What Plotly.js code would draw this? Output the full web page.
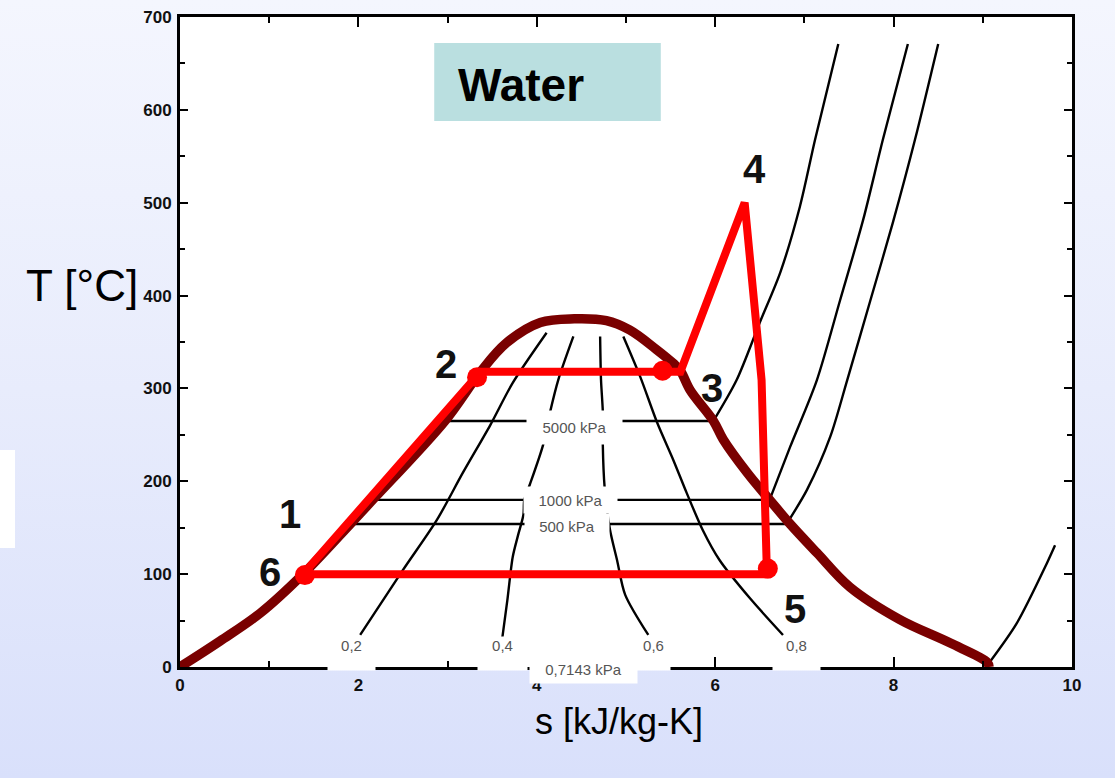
<!DOCTYPE html>
<html>
<head>
<meta charset="utf-8">
<script src="https://cdn.plot.ly/plotly-3.0.1.min.js"></script>
<style>
  html, body { margin:0; padding:0; width:1115px; height:778px; overflow:hidden;
    background: linear-gradient(to bottom, #f4f6fe 0%, #e8ecfc 50%, #d9e0fb 100%); }
  #chart { width:1115px; height:778px; }
</style>
</head>
<body>
<div id="chart"></div>
<script>
// ---- data (s in kJ/kg-K, T in °C) ----
const domeS = [0, 0.45, 0.9, 1.38, 1.91, 2.16, 2.97, 3.37, 3.66, 4.04, 4.42, 4.78, 5.04, 5.34, 5.53, 5.61, 5.72, 5.98, 6.09, 6.36, 6.61, 6.84, 7.14, 7.51, 8.07, 8.63, 9.05, 9.07];
const domeT = [0, 28, 58, 100, 154, 180, 265, 318, 349, 371, 375, 373, 363, 342, 327, 319, 298, 265, 245, 209, 180, 154, 123, 86, 51, 26, 5, 0];

const cycleS = [1.38, 3.37, 5.61, 6.33, 6.52, 6.58, 1.38];
const cycleT = [100, 318, 318, 500, 309, 100, 100];
const stateMarkS = [1.40, 3.33, 5.41, 6.59];
const stateMarkT = [99, 312, 319, 106];

// isobars: first two points = saturated (horizontal) part, rest = superheated
const iso5000S = [2.97, 5.98, 6.24, 6.50, 6.73, 6.95, 7.12, 7.38];
const iso5000T = [265, 265, 309, 371, 425, 496, 568, 671];
const iso1000S = [2.16, 6.61, 6.84, 7.14, 7.40, 7.66, 7.88, 8.16];
const iso1000T = [180, 180, 237, 309, 395, 482, 568, 671];
const iso500S  = [1.91, 6.80, 7.03, 7.29, 7.48, 7.74, 7.99, 8.24, 8.50];
const iso500T  = [154, 154, 191, 248, 309, 395, 478, 568, 671];
const isoLowS  = [9.06, 9.38, 9.72, 9.81];
const isoLowT  = [3, 47, 112, 131];

const q02S = [2.02, 2.50, 2.88, 3.17, 3.48, 3.73, 4.11];
const q02T = [34.5, 104.5, 158.4, 209, 260.8, 306, 360];
const q04S = [3.61, 3.67, 3.73, 3.79, 3.85, 3.86, 3.92, 4.07, 4.15, 4.24, 4.41];
const q04T = [29, 72, 118.5, 142, 164, 180, 196, 239, 275, 309, 356];
const q06S = [4.71, 4.72, 4.74, 4.74, 4.76, 4.82, 4.90, 4.99, 5.25];
const q06T = [356, 309, 275, 239, 194, 148, 115, 78, 34.5];
const q08S = [4.97, 5.16, 5.35, 5.53, 5.68, 5.86, 6.05, 6.39, 6.76];
const q08T = [356, 312.5, 263, 223, 187.5, 147.6, 115, 74, 34.5];

const xTicks = [0, 2, 4, 6, 8, 10];
const yTicks = [0, 100, 200, 300, 400, 500, 600, 700];

const stateLabels = ['1', '2', '3', '4', '5', '6'];
const stateLabelS = [1.23, 2.98, 5.96, 6.44, 6.89, 1.01];
const stateLabelT = [165, 326, 300, 536, 63, 102];

const qualityLabels = ['0,2', '0,4', '0,6', '0,8'];
const qualityLabelS = [1.923, 3.615, 5.308, 6.911];
const qualityBoxW = [47, 49, 33, 47];

const pressureLabels = ['5000 kPa', '1000 kPa', '500 kPa'];
const pressureLabelS = [4.428, 4.378, 4.339];
const pressureLabelT = [257.4, 179.8, 151.8];
const pressureBoxW = [95, 93, 84];
const pressureBoxH = [33, 26, 24];
const lowPressureLabel = '0,7143 kPa';

// ---- traces ----
const FONT = 'Liberation Sans, Arial, sans-serif';
const thinStraight = {color: '#000', width: 2.4};
const thin = {color: '#000', width: 2.4, shape: 'spline', smoothing: 0.8};
function line(s, t, ln) { return {x: s, y: t, mode: 'lines', line: ln, hoverinfo: 'skip', showlegend: false}; }
function isobar(s, t) {
  return [line(s.slice(0, 2), t.slice(0, 2), thinStraight), line(s.slice(1), t.slice(1), thin)];
}

const traces = [].concat(
  isobar(iso5000S, iso5000T),
  isobar(iso1000S, iso1000T),
  isobar(iso500S, iso500T),
  [
    line(isoLowS, isoLowT, thin),
    line(q02S, q02T, thin),
    line(q04S, q04T, thin),
    line(q06S, q06T, thin),
    line(q08S, q08T, thin),
    line(domeS, domeT, {color: '#7a0000', width: 9.5, shape: 'spline', smoothing: 1}),
    line(cycleS, cycleT, {color: '#ff0000', width: 8}),
    {x: stateMarkS, y: stateMarkT, mode: 'markers', marker: {color: '#ff0000', size: 20}, hoverinfo: 'skip', showlegend: false}
  ]
);

const annotations = [];
stateLabels.forEach((t, i) => annotations.push({
  x: stateLabelS[i], y: stateLabelT[i], xref: 'x', yref: 'y', text: t, showarrow: false,
  font: {family: FONT, size: 40, color: '#111', weight: 'bold'}, xanchor: 'center', yanchor: 'middle'
}));
qualityLabels.forEach((t, i) => annotations.push({
  x: qualityLabelS[i], y: 14.5, xref: 'x', yref: 'y', text: t, showarrow: false,
  width: qualityBoxW[i], height: 33, bgcolor: '#ffffff', valign: 'top', borderpad: 0,
  font: {family: FONT, size: 15, color: '#555'}, xanchor: 'center', yanchor: 'middle'
}));
pressureLabels.forEach((t, i) => annotations.push({
  x: pressureLabelS[i], y: pressureLabelT[i], xref: 'x', yref: 'y', text: t, showarrow: false,
  width: pressureBoxW[i], height: pressureBoxH[i], bgcolor: '#ffffff', borderpad: 0,
  font: {family: FONT, size: 15, color: '#555'}, xanchor: 'center', yanchor: 'middle'
}));
annotations.push({x: 0.4519, y: -0.003, xref: 'paper', yref: 'paper', text: lowPressureLabel, showarrow: false,
  width: 107, height: 28, bgcolor: '#ffffff', borderpad: 0,
  font: {family: FONT, size: 15, color: '#555'}, xanchor: 'center', yanchor: 'middle'});
annotations.push({x: 3.09, y: 627, xref: 'x', yref: 'y', text: 'Water', showarrow: false,
  font: {family: FONT, size: 46, color: '#000', weight: 'bold'}, xanchor: 'left', yanchor: 'middle'});
annotations.push({x: -0.0448, y: 411, xref: 'paper', yref: 'y', text: 'T [°C]', showarrow: false,
  font: {family: FONT, size: 44, color: '#000'}, xanchor: 'right', yanchor: 'middle'});
annotations.push({x: 0.492, y: -0.0846, xref: 'paper', yref: 'paper', text: 's [kJ/kg-K]', showarrow: false,
  font: {family: FONT, size: 36, color: '#000'}, xanchor: 'center', yanchor: 'middle'});

const axisCommon = {
  showgrid: false, zeroline: false, showline: true, linecolor: '#000', linewidth: 3,
  mirror: 'allticks', ticks: 'inside', tickcolor: '#000', tickwidth: 2,
  tickfont: {family: FONT, size: 17, color: '#111', weight: 'bold'}, fixedrange: true
};

const layout = {
  width: 1115, height: 778,
  margin: {l: 180, r: 43, t: 17, b: 111},
  paper_bgcolor: 'rgba(0,0,0,0)', plot_bgcolor: '#ffffff',
  showlegend: false,
  xaxis: Object.assign({}, axisCommon, {range: [0, 10], tickvals: xTicks, ticktext: xTicks.map(String),
    ticklen: 10, ticklabelstandoff: 1, minor: {dtick: 1, ticks: 'inside', ticklen: 6, tickwidth: 2, tickcolor: '#000'}}),
  yaxis: Object.assign({}, axisCommon, {range: [0, 700], tickvals: yTicks, ticktext: yTicks.map(String),
    ticklen: 8, ticklabelstandoff: 2, minor: {dtick: 50, ticks: 'inside', ticklen: 5, tickwidth: 2, tickcolor: '#000'}}),
  shapes: [
    {type: 'rect', xref: 'x', yref: 'y', x0: 2.85, x1: 5.39, y0: 588, y1: 672, fillcolor: '#badfe0', line: {width: 0}, layer: 'below'},
    {type: 'rect', xref: 'paper', yref: 'paper', x0: -0.2018, x1: -0.185, y0: 0.183, y1: 0.334, fillcolor: '#ffffff', line: {width: 0}}
  ],
  annotations: annotations
};

Plotly.newPlot('chart', traces, layout, {staticPlot: true, displayModeBar: false});
</script>
</body>
</html>
